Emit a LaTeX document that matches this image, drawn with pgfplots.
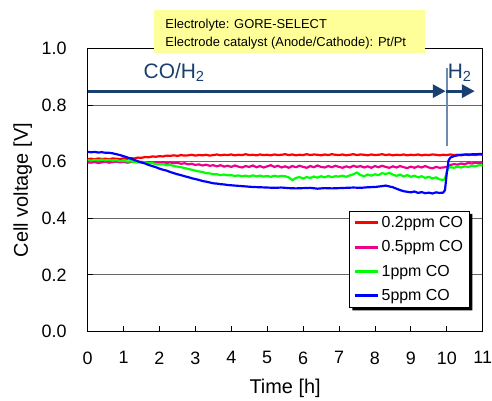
\documentclass[border=0pt]{standalone}
\usepackage{pgfplots}
\pgfplotsset{compat=1.18}
\usepackage{fontspec}
\setmainfont{Liberation Sans}
\usetikzlibrary{arrows.meta}
\definecolor{navy}{RGB}{24,64,112}
\definecolor{vline}{RGB}{110,140,175}
\definecolor{note}{RGB}{255,255,153}
\definecolor{mygreen}{RGB}{0,255,0}
\begin{document}
\begin{tikzpicture}
\path (-88pt,-68pt) rectangle (404pt,333pt);
\begin{axis}[
  at={(0pt,0pt)}, anchor=south west,
  scale only axis, width=397pt, height=284pt,
  xmin=0, xmax=11, ymin=0, ymax=1,
  xtick={0,1,...,11}, ytick={0,0.2,0.4,0.6,0.8,1.0},
  yticklabel style={/pgf/number format/fixed,/pgf/number format/fixed zerofill,/pgf/number format/precision=1},
  /pgf/number format/assume math mode=true,
  tick align=inside, xtick pos=bottom, ytick pos=left,
  major tick length=5pt,
  ymajorgrids, grid style={black!60, line width=0.8pt},
  axis line style={black, line width=0.9pt},
  tick style={black, line width=0.8pt},
  ticklabel style={font=\fontsize{18}{20}\selectfont},
  yticklabel style={inner sep=0pt, xshift=-21pt},
  xticklabel style={inner sep=0pt, yshift=-20pt},
  xlabel={Time [h]}, ylabel={Cell voltage [V]},
  label style={font=\fontsize{20}{22}\selectfont},
  xlabel style={at={(axis description cs:0.5,-0.2)}, anchor=center},
  ylabel style={at={(axis description cs:-0.164,0.5)}, anchor=center},
  legend style={name=leg, at={(axis cs:7.29,0.426)}, anchor=north west, draw=black, line width=0.8pt, fill=white,
    font=\fontsize{16}{18}\selectfont, row sep=7.8pt, inner xsep=4pt, inner ysep=3pt},
  legend cell align=left,
  legend image code/.code={\draw[#1, line width=3pt] (0pt,0pt) -- (23pt,0pt);},
  every axis plot/.append style={line width=2.2pt},
]
\addplot[red] coordinates {(0,0.610)(0.1,0.611)(0.2,0.609)(0.3,0.612)(0.4,0.610)(0.5,0.611)(0.6,0.609)(0.7,0.612)(0.8,0.611)(0.9,0.610)(1.0,0.612)(1.1,0.611)(1.2,0.613)(1.3,0.612)(1.4,0.615)(1.5,0.614)(1.6,0.617)(1.7,0.616)(1.8,0.619)(1.9,0.618)(2.0,0.620)(2.1,0.619)(2.2,0.622)(2.3,0.621)(2.4,0.623)(2.5,0.621)(2.6,0.624)(2.7,0.622)(2.8,0.623)(2.9,0.625)(3.0,0.622)(3.1,0.624)(3.2,0.623)(3.3,0.625)(3.4,0.622)(3.5,0.624)(3.6,0.626)(3.7,0.623)(3.8,0.625)(3.9,0.624)(4.0,0.626)(4.1,0.623)(4.2,0.625)(4.3,0.624)(4.4,0.627)(4.5,0.624)(4.6,0.625)(4.7,0.623)(4.8,0.626)(4.9,0.624)(5.0,0.625)(5.1,0.623)(5.2,0.626)(5.3,0.624)(5.4,0.625)(5.5,0.627)(5.6,0.624)(5.7,0.626)(5.8,0.623)(5.9,0.625)(6.0,0.624)(6.1,0.627)(6.2,0.624)(6.3,0.626)(6.4,0.625)(6.5,0.623)(6.6,0.626)(6.7,0.624)(6.8,0.627)(6.9,0.625)(7.0,0.624)(7.1,0.626)(7.2,0.623)(7.3,0.625)(7.4,0.627)(7.5,0.624)(7.6,0.626)(7.7,0.625)(7.8,0.623)(7.9,0.626)(8.0,0.624)(8.1,0.625)(8.2,0.627)(8.3,0.624)(8.4,0.626)(8.5,0.623)(8.6,0.625)(8.7,0.624)(8.8,0.626)(8.9,0.623)(9.0,0.625)(9.1,0.624)(9.2,0.626)(9.3,0.623)(9.4,0.625)(9.5,0.624)(9.6,0.626)(9.7,0.625)(9.8,0.623)(9.9,0.625)(10.0,0.624)(10.1,0.626)(10.2,0.624)(10.3,0.625)(10.4,0.623)(10.5,0.626)(10.6,0.624)(10.7,0.625)(10.8,0.624)(10.9,0.626)(11.0,0.625)};
\addlegendentry{0.2ppm CO}
\addplot[magenta] coordinates {(0,0.598)(0.1,0.597)(0.2,0.599)(0.3,0.596)(0.4,0.598)(0.5,0.600)(0.6,0.597)(0.7,0.599)(0.8,0.601)(0.9,0.598)(1.0,0.600)(1.1,0.597)(1.2,0.599)(1.3,0.601)(1.4,0.598)(1.5,0.600)(1.6,0.597)(1.7,0.599)(1.8,0.596)(1.9,0.599)(2.0,0.597)(2.1,0.599)(2.2,0.596)(2.3,0.598)(2.4,0.595)(2.5,0.597)(2.6,0.593)(2.7,0.595)(2.8,0.591)(2.9,0.593)(3.0,0.589)(3.1,0.591)(3.2,0.587)(3.3,0.590)(3.4,0.586)(3.5,0.588)(3.6,0.584)(3.7,0.588)(3.8,0.583)(3.9,0.586)(4.0,0.582)(4.1,0.587)(4.2,0.583)(4.3,0.580)(4.4,0.585)(4.5,0.582)(4.6,0.587)(4.7,0.581)(4.8,0.585)(4.9,0.580)(5.0,0.584)(5.1,0.588)(5.2,0.582)(5.3,0.586)(5.4,0.580)(5.5,0.584)(5.6,0.579)(5.7,0.585)(5.8,0.581)(5.9,0.586)(6.0,0.582)(6.1,0.579)(6.2,0.585)(6.3,0.581)(6.4,0.587)(6.5,0.582)(6.6,0.580)(6.7,0.585)(6.8,0.581)(6.9,0.586)(7.0,0.582)(7.1,0.579)(7.2,0.584)(7.3,0.580)(7.4,0.586)(7.5,0.582)(7.6,0.585)(7.7,0.580)(7.8,0.584)(7.9,0.579)(8.0,0.585)(8.1,0.581)(8.2,0.586)(8.3,0.582)(8.4,0.579)(8.5,0.584)(8.6,0.580)(8.7,0.585)(8.8,0.581)(8.9,0.578)(9.0,0.583)(9.1,0.579)(9.2,0.584)(9.3,0.580)(9.4,0.585)(9.5,0.580)(9.6,0.577)(9.7,0.582)(9.8,0.579)(9.9,0.580)(10.0,0.582)(10.1,0.589)(10.2,0.592)(10.3,0.590)(10.4,0.594)(10.5,0.592)(10.6,0.596)(10.7,0.594)(10.8,0.597)(10.9,0.595)(11.0,0.598)};
\addlegendentry{0.5ppm CO}
\addplot[mygreen] coordinates {(0,0.606)(0.1,0.604)(0.2,0.607)(0.3,0.605)(0.4,0.608)(0.5,0.605)(0.6,0.607)(0.7,0.604)(0.8,0.606)(0.9,0.603)(1.0,0.604)(1.1,0.601)(1.2,0.602)(1.3,0.599)(1.4,0.600)(1.5,0.597)(1.6,0.598)(1.7,0.595)(1.8,0.596)(1.9,0.592)(2.0,0.591)(2.1,0.592)(2.2,0.588)(2.3,0.589)(2.4,0.585)(2.5,0.583)(2.6,0.581)(2.7,0.578)(2.8,0.575)(2.9,0.572)(3.0,0.569)(3.1,0.566)(3.2,0.564)(3.3,0.560)(3.4,0.559)(3.5,0.556)(3.6,0.556)(3.7,0.553)(3.8,0.555)(3.9,0.552)(4.0,0.553)(4.1,0.550)(4.2,0.552)(4.3,0.549)(4.4,0.551)(4.5,0.548)(4.6,0.552)(4.7,0.549)(4.8,0.551)(4.9,0.548)(5.0,0.550)(5.1,0.547)(5.2,0.551)(5.3,0.548)(5.4,0.550)(5.5,0.549)(5.6,0.545)(5.7,0.535)(5.8,0.543)(5.9,0.546)(6.0,0.541)(6.1,0.546)(6.2,0.543)(6.3,0.548)(6.4,0.544)(6.5,0.549)(6.6,0.545)(6.7,0.550)(6.8,0.546)(6.9,0.549)(7.0,0.548)(7.1,0.551)(7.2,0.547)(7.3,0.552)(7.4,0.556)(7.5,0.562)(7.6,0.553)(7.7,0.549)(7.8,0.555)(7.9,0.551)(8.0,0.556)(8.1,0.553)(8.2,0.560)(8.3,0.557)(8.4,0.561)(8.5,0.555)(8.6,0.550)(8.7,0.555)(8.8,0.548)(8.9,0.553)(9.0,0.547)(9.1,0.551)(9.2,0.545)(9.3,0.549)(9.4,0.543)(9.5,0.547)(9.6,0.541)(9.7,0.545)(9.8,0.538)(9.9,0.536)(9.95,0.540)(10.0,0.565)(10.05,0.578)(10.1,0.581)(10.2,0.579)(10.3,0.583)(10.4,0.580)(10.5,0.584)(10.6,0.582)(10.7,0.586)(10.8,0.584)(10.9,0.588)(11.0,0.587)};
\addlegendentry{1ppm CO}
\addplot[blue] coordinates {(0,0.635)(0.1,0.634)(0.2,0.635)(0.3,0.633)(0.4,0.634)(0.5,0.632)(0.6,0.632)(0.7,0.630)(0.8,0.627)(0.9,0.624)(1.0,0.620)(1.1,0.616)(1.2,0.611)(1.3,0.607)(1.4,0.602)(1.5,0.598)(1.6,0.594)(1.7,0.589)(1.8,0.585)(1.9,0.581)(2.0,0.576)(2.1,0.572)(2.2,0.569)(2.3,0.564)(2.4,0.560)(2.5,0.556)(2.6,0.553)(2.7,0.549)(2.8,0.546)(2.9,0.542)(3.0,0.539)(3.1,0.536)(3.2,0.532)(3.3,0.530)(3.4,0.527)(3.5,0.524)(3.6,0.523)(3.7,0.521)(3.8,0.520)(3.9,0.518)(4.0,0.517)(4.2,0.515)(4.4,0.513)(4.6,0.511)(4.8,0.510)(5.0,0.509)(5.2,0.508)(5.4,0.509)(5.6,0.507)(5.8,0.506)(6.0,0.507)(6.2,0.508)(6.4,0.505)(6.6,0.507)(6.8,0.506)(7.0,0.507)(7.2,0.508)(7.4,0.509)(7.6,0.508)(7.8,0.510)(8.0,0.511)(8.2,0.514)(8.3,0.516)(8.4,0.513)(8.5,0.510)(8.6,0.505)(8.7,0.500)(8.8,0.496)(8.9,0.494)(9.0,0.492)(9.1,0.495)(9.2,0.490)(9.3,0.493)(9.4,0.489)(9.5,0.491)(9.6,0.488)(9.7,0.492)(9.8,0.490)(9.9,0.491)(9.95,0.500)(10.0,0.560)(10.05,0.605)(10.1,0.615)(10.2,0.620)(10.3,0.623)(10.4,0.625)(10.6,0.626)(10.8,0.627)(11.0,0.628)};
\addlegendentry{5ppm CO}
% annotations
\draw[vline, line width=2pt] (axis cs:10,0.655) -- (axis cs:10,0.933);
\draw[navy, line width=3.3pt, -{Triangle[length=13pt,width=13pt]}] (axis cs:0,0.85) -- (axis cs:9.97,0.85);
\draw[navy, line width=3.3pt, -{Triangle[length=13pt,width=13pt]}] (axis cs:9.97,0.85) -- (axis cs:10.78,0.85);
\node[navy, anchor=base, inner sep=0pt, font=\fontsize{21}{23}\selectfont] at (axis cs:2.41,0.894) {CO/H\textsubscript{2}};
\node[navy, anchor=base, inner sep=0pt, font=\fontsize{21}{23}\selectfont] at (axis cs:10.36,0.894) {H\textsubscript{2}};
\end{axis}
% legend shadow (L-shaped strip right and below the legend box)
\fill[black] ([yshift=-3pt]leg.north east) -- ([xshift=3pt,yshift=-3pt]leg.north east) -- ([xshift=3pt,yshift=-3pt]leg.south east) -- ([xshift=3pt,yshift=-3pt]leg.south west) -- ([xshift=3pt]leg.south west) -- (leg.south east) -- cycle;
\fill[note] (67pt,280pt) rectangle (339pt,323pt);
\node[anchor=base west, inner sep=0pt, font=\fontsize{13}{15}\selectfont] at (78pt,304pt) {Electrolyte: GORE-SELECT};
\node[anchor=base west, inner sep=0pt, font=\fontsize{13}{15}\selectfont] at (78pt,286.5pt) {Electrode catalyst (Anode/Cathode): Pt/Pt};
\end{tikzpicture}
\end{document}
